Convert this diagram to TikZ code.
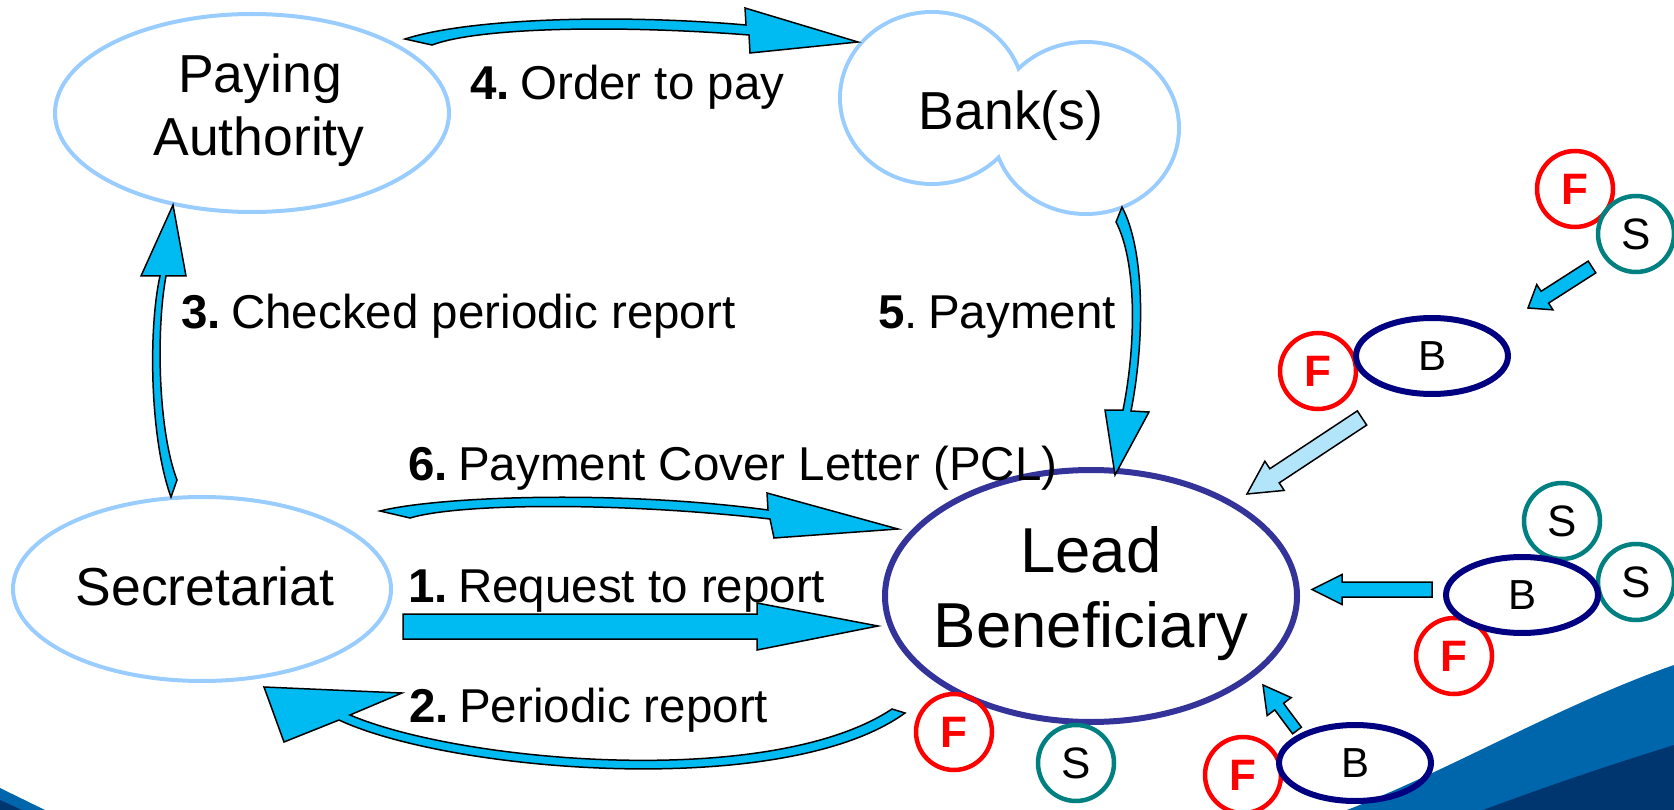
\documentclass[tikz,border=0pt]{standalone}
\usepackage{fontspec}
\setmainfont{Liberation Sans}
\usetikzlibrary{calc,shapes.geometric}
\definecolor{arrowfill}{RGB}{0,186,242}
\definecolor{lightarrow}{RGB}{179,229,250}
\definecolor{paleblue}{RGB}{153,204,255}
\definecolor{lbblue}{RGB}{51,51,153}
\definecolor{fred}{RGB}{255,0,0}
\definecolor{steal}{RGB}{0,128,128}
\definecolor{bnavy}{RGB}{0,0,128}
\definecolor{swlight}{RGB}{0,102,172}
\definecolor{swdark}{RGB}{0,54,112}
\newcommand{\numgap}{\hspace{0.22em}}
\tikzset{
  bigell/.style={ellipse, draw=paleblue, line width=4pt, inner sep=0pt},
  nodetext/.style={font=\fontsize{53.5}{60}\selectfont, inner sep=0pt, anchor=base},
  lbtext/.style={font=\fontsize{63.5}{75}\selectfont, inner sep=0pt, anchor=base},
  labeltext/.style={font=\fontsize{47.5}{54}\selectfont, inner sep=0pt, anchor=base west},
  fcirc/.style={circle, draw=fred, line width=4.5pt, minimum size=76pt, inner sep=0pt, text=fred, font=\fontsize{44}{50}\selectfont\bfseries},
  scirc/.style={circle, draw=steal, line width=4.5pt, minimum size=76pt, inner sep=0pt, font=\fontsize{44}{50}\selectfont},
  bell/.style={ellipse, draw=bnavy, line width=6pt, minimum width=152pt, minimum height=76pt, inner sep=0pt, font=\fontsize{42}{50}\selectfont},
  blockarrow/.style={fill=arrowfill, draw=black, line width=1.5pt, line join=miter},
  lightblock/.style={fill=lightarrow, draw=black, line width=1.5pt, line join=miter},
}
% straight block arrow: #1 style, #2 start, #3 tip, #4 shaft half width, #5 head length, #6 head half width
\newcommand{\blockarr}[6]{%
  \coordinate (baH) at ($(#3)!#5!(#2)$);
  \filldraw[#1] ($(#2)!#4!90:(#3)$) -- ($(baH)!#4!90:(#3)$) -- ($(baH)!#6!90:(#3)$) -- (#3)
    -- ($(baH)!#6!-90:(#3)$) -- ($(baH)!#4!-90:(#3)$) -- ($(#2)!#4!-90:(#3)$) -- cycle;
}
\begin{document}
\begin{tikzpicture}[x=1pt,y=-1pt]
\useasboundingbox (0,0) rectangle (1674,810);

% background swooshes
\fill[swlight] (1347,810) .. controls (1450,770) and (1560,705) .. (1674,665) -- (1674,810) -- cycle;
\fill[swdark] (1483,810) .. controls (1550,785) and (1610,765) .. (1674,745) -- (1674,810) -- cycle;
\fill[swlight] (0,788) -- (45,810) -- (0,810) -- cycle;
\fill[swdark] (0,800) -- (22,810) -- (0,810) -- cycle;

% main nodes
\node[bigell, minimum width=394pt, minimum height=198pt] (PA) at (252,113) {};
\node[nodetext] (PAt1) at (260,93) {Paying};
\node[nodetext] (PAt2) at (259,156) {Authority};

\node[bigell, minimum width=378pt, minimum height=184pt] (Sec) at (202,589) {};
\node[nodetext] (Sect) at (205,605) {Secretariat};

\draw[paleblue, line width=8pt] (932,98) ellipse[x radius=90pt, y radius=84pt]
  (1086,128) ellipse[x radius=91pt, y radius=84pt];
\fill[white] (932,98) ellipse[x radius=90pt, y radius=84pt]
  (1086,128) ellipse[x radius=91pt, y radius=84pt];
\node[nodetext] (Bank) at (1011,130) {Bank(s)};

\node[ellipse, draw=lbblue, line width=6pt, minimum width=412pt, minimum height=252pt, inner sep=0pt] (LB) at (1091,596) {};
\node[lbtext] (LBt1) at (1091,572) {Lead};
\node[lbtext] (LBt2) at (1091,647) {Beneficiary};

% curved / block arrows
% 4: Paying Authority -> Bank
\filldraw[blockarrow] (405,39) .. controls (470,18) and (620,14) .. (746,25) -- (745,8) -- (858,42) -- (750,53) -- (749,35) .. controls (620,25) and (480,27) .. (432,45) -- cycle;
% 6: Secretariat -> Lead Beneficiary (curved)
\filldraw[blockarrow] (380,511) .. controls (440,496) and (620,490) .. (768,510) -- (767,493) -- (898,529) -- (774,538) -- (770,519) .. controls (620,502) and (460,503) .. (410,518) -- cycle;
% 1: straight
\filldraw[blockarrow] (403,614) -- (757,614) -- (757,603) -- (878,626) -- (757,650) -- (757,639) -- (403,639) -- cycle;
% 2: Lead Beneficiary -> Secretariat
\filldraw[blockarrow] (264,687) -- (402,693) -- (350,715) .. controls (460,762) and (770,790) .. (892,709) -- (905,713) .. controls (785,800) and (450,772) .. (339,720) -- (284,742) -- cycle;
% 3: Secretariat -> Paying Authority
\filldraw[blockarrow] (173,205) -- (186,276) -- (166,276) .. controls (156,330) and (158,430) .. (177,480) -- (171,497) .. controls (150,440) and (148,330) .. (160,276) -- (141,276) -- cycle;
% 5: Bank -> Lead Beneficiary
\filldraw[blockarrow] (1122,207) .. controls (1145,250) and (1145,340) .. (1131,411) -- (1149,412) -- (1115,475) -- (1105,410) -- (1123,410) .. controls (1137,340) and (1136,260) .. (1116,222) -- cycle;

% labels
\node[labeltext] (L4) at (470,100) {\textbf{4.}\numgap Order to pay};
\node[labeltext] (L3) at (181,329) {\textbf{3.}\numgap Checked periodic report};
\node[labeltext] (L5) at (878,329) {\textbf{5}.\numgap Payment};
\node[labeltext] (L6) at (408,480) {\textbf{6.}\numgap Payment Cover Letter (PCL)};
\node[labeltext] (L1) at (408,602) {\textbf{1.}\numgap Request to report};
\node[labeltext] (L2) at (409,722) {\textbf{2.}\numgap Periodic report};

% small partner symbols
\node[fcirc] (F1) at (1575,189) {F};
\node[scirc] (S1) at (1636,234) {S};

\node[fcirc] (F2) at (1318,371) {F};
\node[bell] (B2) at (1432,356) {B};

\node[scirc] (S3) at (1562,521) {S};
\node[scirc] (S4) at (1636,582) {S};
\node[fcirc] (F3) at (1454,656) {F};
\node[bell] (B3) at (1522,595) {B};

\node[fcirc] (F4) at (1243,775) {F};
\node[bell] (B4) at (1355,763) {B};

\node[fcirc] (F5) at (954,732) {F};
\node[scirc] (S5) at (1076,763) {S};

% small arrows
\coordinate (a1s) at (1592,267);
\coordinate (a1e) at (1528,308);
\blockarr{blockarrow}{a1s}{a1e}{7pt}{20pt}{15pt}
\coordinate (a2s) at (1362,418);
\coordinate (a2e) at (1247,494);
\blockarr{lightblock}{a2s}{a2e}{8.5pt}{33pt}{17.5pt}
\coordinate (a3s) at (1432,589.5);
\coordinate (a3e) at (1312,589.5);
\blockarr{blockarrow}{a3s}{a3e}{7.5pt}{30pt}{15pt}
\coordinate (a4s) at (1297,730.5);
\coordinate (a4e) at (1263,685);
\blockarr{blockarrow}{a4s}{a4e}{5.5pt}{27pt}{15pt}
\end{tikzpicture}
\end{document}
